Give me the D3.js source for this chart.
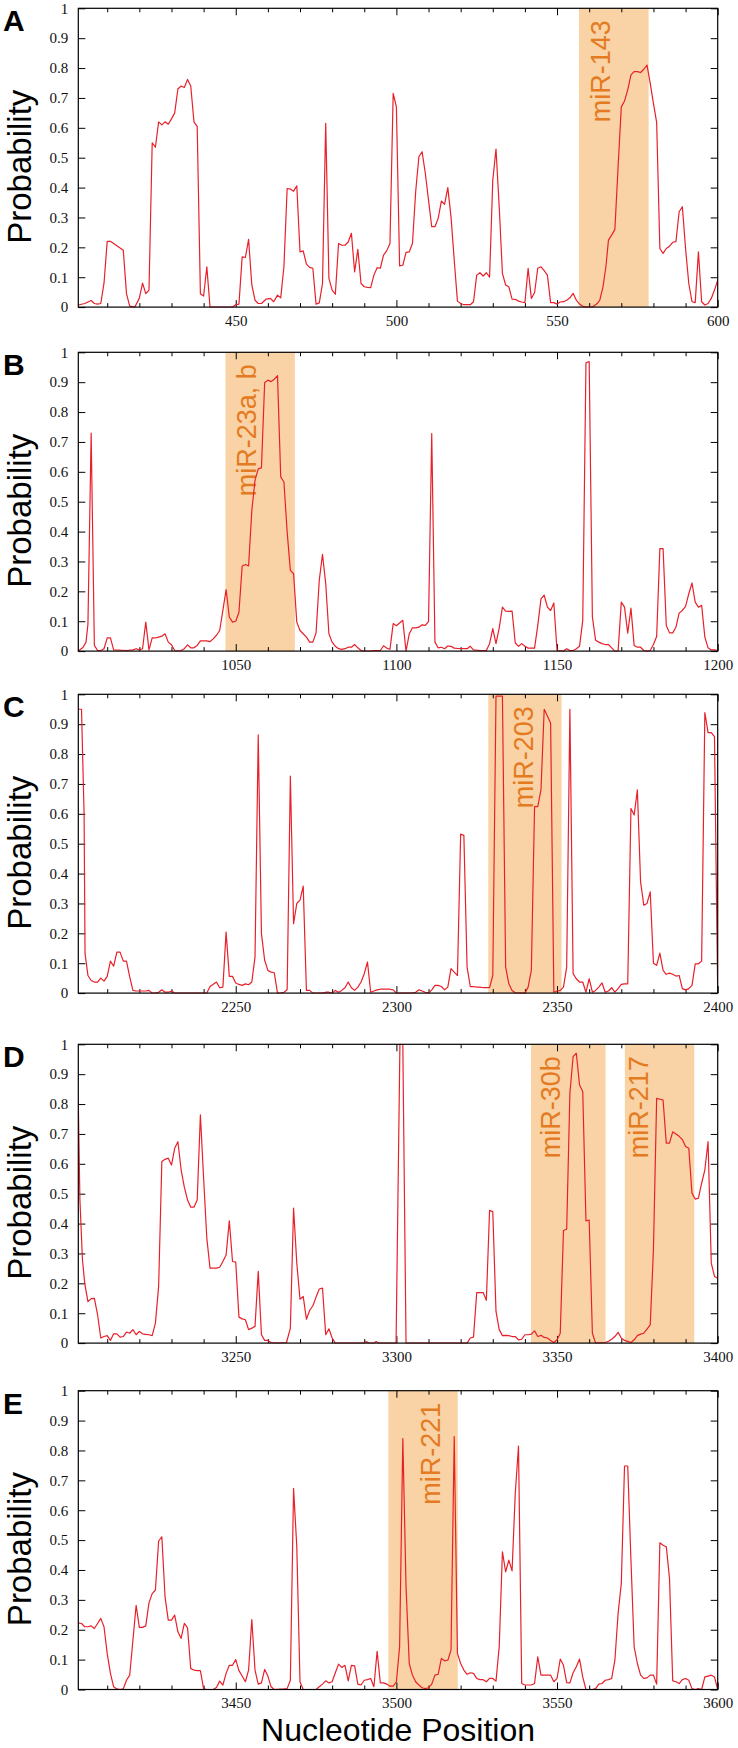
<!DOCTYPE html>
<html>
<head>
<meta charset="utf-8">
<script src="https://cdn.jsdelivr.net/npm/d3@7"></script>
<style>
  html, body { margin: 0; padding: 0; background: #fff; }
  svg { display: block; }
  .tick text { font-family: 'Liberation Serif', 'Times New Roman', 'DejaVu Serif', serif; }
</style>
</head>
<body>
<svg id="chart" width="738" height="1748"></svg>
<script>
// ---------------- DATA ----------------
const panelLetters = ["A", "B", "C", "D", "E"];
const domainStart = [401, 1001, 2201, 3201, 3401];
const domainEnd = [600, 1200, 2400, 3400, 3600];
const yTickValues = [0, 0.1, 0.2, 0.3, 0.4, 0.5, 0.6, 0.7, 0.8, 0.9, 1];
const yTickLabels = ["0", "0.1", "0.2", "0.3", "0.4", "0.5", "0.6", "0.7", "0.8", "0.9", "1"];
const yAxisTitle = "Probability";
const xAxisTitle = "Nucleotide Position";

// highlighted miRNA binding regions
const bandPanel = [0, 1, 2, 3, 3, 4];
const bandStart = [556.8, 1046.8, 2328.6, 3341.9, 3371.1, 3497.5];
const bandEnd = [578.5, 1068.4, 2351.4, 3365.1, 3392.7, 3519.1];
const bandLabel = ["miR-143", "miR-23a, b", "miR-203", "miR-30b", "miR-217", "miR-221"];
const bandLabelPos = [566.4, 1056.3, 2342.5, 3350.9, 3378.2, 3513.6];

// probability profiles: [nucleotide position, probability]
const seriesA = [[401,0.007],[403,0.012],[405,0.022],[406,0.012],[407,0.01],[408,0.012],[409,0.08],[410,0.22],[411,0.22],[413,0.205],[415,0.19],[416,0.045],[417,0.003],[418.6,0],[420,0.03],[421,0.08],[422,0.045],[423,0.057],[424,0.55],[425,0.535],[426,0.62],[427,0.61],[428,0.62],[429,0.612],[430,0.63],[431,0.65],[432,0.73],[433,0.74],[434,0.735],[435,0.762],[436,0.74],[437,0.62],[438,0.605],[439,0.045],[440,0.037],[441,0.135],[442,0],[449,0],[450,0.008],[451,0.01],[452,0.168],[453,0.166],[454,0.227],[455,0.074],[456,0.023],[457,0.012],[458,0.012],[459.5,0.027],[460.8,0.029],[461.8,0.018],[463,0.04],[464,0.031],[465,0.135],[466,0.397],[467,0.395],[468,0.388],[469,0.406],[470,0.185],[471,0.188],[472,0.144],[473,0.133],[474,0.13],[475,0.01],[476,0.014],[477,0.079],[478,0.615],[479,0.096],[480,0.057],[481,0.043],[482,0.213],[483,0.207],[484,0.207],[485,0.218],[486,0.247],[487,0.118],[488,0.193],[489,0.079],[490,0.068],[491,0.066],[492,0.065],[493,0.107],[494,0.132],[495,0.13],[496,0.174],[497,0.189],[498,0.213],[499,0.715],[500,0.67],[501,0.138],[502,0.14],[503,0.183],[504,0.185],[505,0.213],[506,0.386],[507,0.503],[508,0.52],[509,0.448],[510,0.358],[511,0.269],[512,0.269],[513,0.297],[514,0.355],[515,0.344],[516,0.4],[517,0.302],[518,0.157],[519,0.02],[520,0.012],[521,0.008],[523,0.008],[524,0.018],[525,0.107],[526,0.115],[527,0.104],[528,0.115],[529,0.1],[530,0.425],[531,0.529],[532,0.336],[533,0.113],[534,0.074],[535,0.068],[536,0.027],[537,0.026],[538,0.02],[539,0.017],[540,0.015],[541,0.13],[542,0.029],[543,0.048],[544,0.13],[545,0.135],[546,0.122],[547,0.107],[548,0.015],[549,0.015],[550,0.01],[551,0.017],[552,0.018],[553,0.023],[554,0.031],[555,0.046],[556,0.023],[557,0.01],[558,0.003],[559,0],[561,0],[562.5,0.012],[563.3,0.023],[564.3,0.068],[565.2,0.135],[566,0.224],[567,0.241],[568,0.26],[569,0.47],[570,0.67],[571,0.69],[572,0.727],[573,0.777],[574,0.788],[575,0.788],[576,0.785],[577,0.796],[578,0.81],[579,0.749],[580,0.682],[581,0.618],[582,0.196],[583,0.18],[584,0.196],[585,0.204],[586,0.217],[587,0.219],[588,0.319],[589,0.336],[590,0.196],[591,0.079],[592,0.018],[593,0.015],[594,0.185],[595,0.018],[596,0.007],[597,0.012],[598,0.029],[599,0.057],[600,0.09]];

const seriesB = [[1001,0],[1002.5,0.013],[1003.4,0.03],[1004,0.09],[1005,0.73],[1006,0.019],[1007,0.002],[1008,0.002],[1009,0.008],[1010,0.044],[1011,0.044],[1012,0.004],[1016,0.002],[1018,0.004],[1019,0.008],[1020,0.004],[1021,0.008],[1022,0.097],[1023,0.004],[1024,0.044],[1025,0.044],[1026,0.047],[1027,0.05],[1028,0.058],[1029,0.03],[1030,0.021],[1031,0.002],[1032,0],[1033,0.002],[1034,0.008],[1035,0.021],[1036,0.011],[1037,0.011],[1038,0.019],[1039,0.034],[1041,0.034],[1042,0.032],[1043,0.041],[1044,0.053],[1045,0.069],[1046,0.136],[1047,0.206],[1048,0.114],[1049,0.097],[1050,0.1],[1051,0.13],[1052,0.285],[1053,0.29],[1054,0.285],[1055,0.47],[1056,0.572],[1057,0.61],[1058,0.613],[1059,0.898],[1060,0.907],[1061,0.902],[1062,0.91],[1063,0.922],[1064,0.583],[1065,0.566],[1066,0.399],[1067,0.27],[1068,0.259],[1069,0.097],[1070,0.069],[1071,0.058],[1072,0.047],[1073,0.03],[1074,0.03],[1075,0.061],[1076,0.237],[1077,0.324],[1078,0.226],[1079,0.058],[1080,0.03],[1081,0.016],[1082,0.008],[1083,0.006],[1084,0.008],[1085,0.013],[1086,0.013],[1087,0.022],[1088,0.011],[1089,0.002],[1090,0],[1092,0],[1093,0.002],[1095,0.002],[1096,0.018],[1097,0.01],[1098,0.006],[1099,0.092],[1100,0.085],[1101,0.094],[1102,0.103],[1103,0],[1104,0.058],[1105,0.078],[1106,0.078],[1107,0.08],[1108,0.088],[1109,0.086],[1110,0.099],[1111,0.728],[1112,0.03],[1113,0.011],[1114,0.013],[1115,0.008],[1116,0.017],[1117,0.016],[1118,0.01],[1119,0.009],[1122,0.008],[1123,0.016],[1124,0.004],[1126,0.002],[1128,0.002],[1129,0.025],[1130,0.075],[1131,0.025],[1132,0.078],[1133,0.147],[1134,0.134],[1135,0.133],[1136,0.134],[1137,0.027],[1138,0.016],[1139,0.025],[1140,0.016],[1141,0.01],[1143,0.01],[1144,0.086],[1145,0.175],[1146,0.187],[1147,0.147],[1148,0.136],[1149,0.161],[1150,0.002],[1152,0],[1153,0.008],[1154,0.002],[1155,0.002],[1156,0.008],[1157,0.016],[1158,0.103],[1159,0.965],[1160,0.969],[1161,0.114],[1162,0.036],[1163,0.03],[1164,0.025],[1165,0.022],[1166,0.022],[1167,0.011],[1168,0],[1169,0],[1170,0.164],[1171,0.147],[1172,0.06],[1173,0.144],[1174,0.019],[1175,0.013],[1176,0.013],[1177,0.002],[1178,0],[1179,0.002],[1180,0.022],[1181,0.049],[1182,0.343],[1183,0.343],[1184,0.086],[1185,0.061],[1186,0.061],[1187,0.08],[1188,0.127],[1189,0.136],[1190,0.15],[1191,0.192],[1192,0.228],[1193,0.164],[1194,0.147],[1195,0.153],[1196,0.047],[1197,0.011],[1198,0.004],[1199,0.004],[1200,0.002]];

const seriesC = [[2201,0.95],[2202,0.95],[2202.8,0.6],[2203.1,0.132],[2204,0.059],[2205,0.042],[2206,0.037],[2207,0.037],[2208,0.05],[2209,0.04],[2210,0.056],[2211,0.107],[2212,0.09],[2213,0.137],[2214,0.137],[2215,0.107],[2216,0.107],[2217,0.054],[2218,0.009],[2219,0.007],[2222,0.007],[2223,0.009],[2224,0],[2225,0],[2226,0.003],[2227,0.011],[2228,0.003],[2229,0.003],[2230,0.007],[2231,0],[2241,0],[2242,0.022],[2244,0.037],[2245,0.018],[2246,0.02],[2247,0.204],[2248,0.056],[2249,0.056],[2250,0.034],[2251,0.029],[2252,0.026],[2253,0.031],[2254,0.028],[2255,0.037],[2256,0.121],[2257,0.864],[2258,0.199],[2259,0.11],[2260,0.076],[2261,0.07],[2262,0.068],[2263,0],[2264,0],[2265,0.003],[2266,0.011],[2267,0.726],[2268,0.232],[2269,0.3],[2270,0.311],[2271,0.358],[2272,0.009],[2273,0.009],[2274,0],[2277,0],[2278,0.003],[2279,0.003],[2280,0],[2281,0.009],[2282,0.003],[2283,0.009],[2284,0.018],[2285,0.037],[2286,0.018],[2287,0.009],[2288,0.02],[2289,0.037],[2290,0.065],[2291,0.104],[2292,0.003],[2293,0.007],[2294,0.011],[2295,0.013],[2298,0.013],[2299,0.011],[2300,0],[2305,0],[2306,0.003],[2307,0.011],[2308,0.007],[2309,0.003],[2310,0],[2311,0.011],[2312,0.026],[2313,0.026],[2314,0.022],[2315,0.011],[2316,0.02],[2317,0.082],[2318,0.07],[2319,0.059],[2320,0.532],[2321,0.528],[2322,0.087],[2323,0.022],[2324,0.022],[2325,0.02],[2326,0.02],[2327,0.018],[2328,0.018],[2329,0.018],[2330,0.059],[2331,0.994],[2332,0.994],[2333,0.994],[2334,0.087],[2335,0.031],[2336,0.009],[2337,0.001],[2338,0],[2340,0],[2341,0.02],[2342,0.076],[2343,0.624],[2344,0.624],[2345,0.68],[2346,0.95],[2347,0.927],[2348,0.903],[2349,0.003],[2350,0.007],[2351,0.009],[2352,0.02],[2353,0.087],[2354,0.95],[2355,0.065],[2356,0.048],[2357,0.037],[2358,0.037],[2359,0.003],[2360,0.048],[2361,0.003],[2362,0.009],[2363,0.02],[2364,0.034],[2365,0.003],[2366,0.007],[2367,0.018],[2368,0.003],[2369,0.015],[2370,0.029],[2371,0.031],[2372,0.031],[2373,0.618],[2374,0.596],[2375,0.68],[2376,0.372],[2377,0.294],[2378,0.3],[2379,0.339],[2380,0.1],[2381,0.093],[2382,0.134],[2383,0.076],[2384,0.063],[2385,0.067],[2386,0.063],[2387,0.057],[2388,0.059],[2389,0.015],[2390,0.011],[2391,0.015],[2392,0.026],[2393,0.098],[2394,0.098],[2395,0.107],[2396,0.939],[2397,0.872],[2398,0.872],[2399,0.858],[2400,0]];

const seriesD = [[3201,0.808],[3201.5,0.48],[3202.3,0.279],[3203,0.2],[3204,0.139],[3205,0.149],[3206,0.15],[3207,0.095],[3208,0.017],[3209,0.022],[3210,0.025],[3211,0.009],[3212,0.031],[3213,0.031],[3214,0.02],[3215,0.022],[3216,0.037],[3217,0.033],[3218,0.045],[3219,0.028],[3220,0.039],[3221,0.031],[3222,0.029],[3223,0.028],[3224,0.025],[3225,0.067],[3226,0.19],[3227,0.608],[3228,0.615],[3229,0.619],[3230,0.596],[3231,0.652],[3232,0.674],[3233,0.58],[3234,0.522],[3235,0.479],[3236,0.455],[3237,0.455],[3238,0.479],[3239,0.764],[3240,0.552],[3241,0.351],[3242,0.251],[3244,0.251],[3245,0.254],[3246,0.273],[3247,0.295],[3248,0.409],[3249,0.273],[3250,0.271],[3251,0.087],[3252,0.081],[3253,0.078],[3254,0.045],[3255,0.05],[3256,0.056],[3257,0.24],[3258,0.028],[3259,0.009],[3260,0.009],[3261,0.002],[3262.6,0],[3265.8,0.002],[3267,0.05],[3268,0.452],[3269,0.268],[3270,0.147],[3271,0.156],[3272,0.08],[3273,0.109],[3274,0.125],[3275,0.154],[3276,0.181],[3277,0.184],[3278,0.028],[3279,0.048],[3280,0.017],[3281,0],[3290,0],[3290.6,0.005],[3291.5,0],[3293,0],[3293.7,0.005],[3294.5,0],[3299.9,0],[3301.1,1],[3302,1],[3303,0],[3322,0],[3323,0.017],[3324,0.02],[3325,0.169],[3326,0.169],[3327,0.169],[3328,0.143],[3329,0.444],[3330,0.44],[3331,0.106],[3332,0.045],[3333,0.025],[3334,0.026],[3335,0.025],[3336,0.022],[3337,0.022],[3338,0.011],[3339,0.013],[3340,0.028],[3341,0.028],[3342,0.03],[3343,0.041],[3344,0.022],[3345,0.026],[3346,0.019],[3347,0.017],[3348,0.009],[3349,0.002],[3350,0.011],[3351,0.033],[3352,0.377],[3353,0.381],[3354,0.836],[3355,0.959],[3356,0.97],[3357,0.864],[3358,0.842],[3359,0.409],[3360,0.412],[3361,0.033],[3362,0],[3365,0.002],[3366,0.006],[3367,0.013],[3368,0.022],[3369,0.036],[3370,0.017],[3371,0.009],[3372,0.006],[3373,0.002],[3374,0.011],[3375,0.025],[3376,0.03],[3377,0.033],[3378,0.047],[3379,0.061],[3380,0.312],[3381,0.819],[3382,0.816],[3383,0.813],[3384,0.669],[3385,0.669],[3386,0.707],[3387,0.7],[3388,0.692],[3389,0.681],[3390,0.658],[3391,0.652],[3392,0.502],[3393,0.482],[3394,0.485],[3395,0.535],[3396,0.58],[3397,0.674],[3398,0.268],[3399,0.223],[3400,0.217]];

const seriesE = [[3401,0.223],[3402,0.221],[3403,0.21],[3404,0.21],[3405,0.213],[3406,0.204],[3407,0.221],[3408,0.238],[3409,0.21],[3410,0.12],[3411,0.054],[3412,0.009],[3413,0.002],[3414,0],[3415,0.002],[3416,0.031],[3417,0.048],[3418,0.165],[3419,0.282],[3420,0.208],[3421,0.208],[3422,0.213],[3423,0.29],[3424,0.321],[3425,0.333],[3426,0.497],[3427,0.511],[3428,0.31],[3429,0.232],[3430,0.232],[3431,0.249],[3432,0.193],[3433,0.171],[3434,0.221],[3435,0.206],[3436,0.07],[3437,0.065],[3438,0.063],[3439,0.063],[3440,0.002],[3441,0],[3443,0],[3444,0.007],[3445,0.028],[3446,0.015],[3447,0.054],[3448,0.081],[3449,0.081],[3450,0.1],[3451,0.063],[3452,0.045],[3453,0.026],[3454,0.065],[3455,0.234],[3456,0.065],[3457,0.018],[3458,0.022],[3459,0.067],[3460,0.045],[3461,0.009],[3462,0],[3465,0.002],[3466,0.003],[3467,0.031],[3468,0.673],[3469,0.478],[3470,0.026],[3471,0],[3475,0],[3476,0.009],[3477,0.018],[3478,0.029],[3479,0.022],[3480,0.026],[3481,0.056],[3482,0.085],[3483,0.074],[3484,0.081],[3485,0.029],[3486,0.081],[3487,0.079],[3488,0.018],[3489,0.015],[3490,0.031],[3491,0.033],[3492,0.037],[3493,0.009],[3494,0.128],[3495,0.022],[3496,0.022],[3497,0.018],[3498,0.011],[3499,0.011],[3500,0.026],[3501,0.143],[3502,0.84],[3503,0.344],[3504,0.087],[3505,0.048],[3506,0.026],[3507,0.015],[3508,0.006],[3509,0.003],[3510,0.006],[3511,0.018],[3512,0.048],[3513,0.051],[3514,0.104],[3515,0.096],[3516,0.098],[3517,0.132],[3518,0.846],[3519,0.121],[3520,0.087],[3521,0.065],[3522,0.051],[3523,0.056],[3524,0.054],[3525,0.037],[3526,0.033],[3527,0.033],[3528,0.026],[3529,0.037],[3530,0.037],[3531,0.028],[3532,0.143],[3533,0.461],[3534,0.394],[3535,0.433],[3536,0.397],[3537,0.656],[3538,0.815],[3539,0.02],[3540,0.015],[3542,0.015],[3543,0.02],[3544,0.109],[3545,0.048],[3548,0.048],[3549,0.026],[3550,0.037],[3551,0.102],[3552,0.081],[3553,0.023],[3554,0.022],[3555,0.056],[3556,0.076],[3557,0.102],[3558,0.042],[3559,0],[3561,0],[3562,0.003],[3563,0.018],[3564,0.02],[3565,0.031],[3566,0.033],[3567,0.037],[3568,0.098],[3569,0.254],[3570,0.355],[3571,0.748],[3572,0.748],[3573,0.433],[3574,0.143],[3575,0.087],[3576,0.048],[3577,0.037],[3578,0.039],[3579,0.048],[3580,0.048],[3581,0.018],[3582,0.491],[3583,0.483],[3584,0.478],[3585,0.372],[3586,0.029],[3587,0.026],[3588,0.02],[3589,0.033],[3590,0.037],[3591,0.031],[3592,0.003],[3593,0],[3594,0.003],[3595,0],[3596,0.042],[3597,0.045],[3598,0.048],[3599,0.042],[3600,0]];

const allSeries = [seriesA, seriesB, seriesC, seriesD, seriesE];

// ---------------- LAYOUT ----------------
const plotLeft = 78.3, plotRight = 717.7;
const panelTops = [8.3, 352.3, 694.3, 1044.3, 1390.7];
const plotH = 298.8;

const svg = d3.select("#chart");
const serif = "'Liberation Serif', 'Times New Roman', 'DejaVu Serif', serif";
const sans = "'Liberation Sans', Arial, Helvetica, sans-serif";

panelLetters.forEach((letter, i) => {
  const top = panelTops[i];
  const x = d3.scaleLinear().domain([domainStart[i], domainEnd[i]]).range([plotLeft, plotRight]);
  const y = d3.scaleLinear().domain([0, 1]).range([top + plotH, top]);

  const g = svg.append("g");

  const clipId = "clip" + i;
  svg.append("clipPath").attr("id", clipId)
    .append("rect").attr("x", plotLeft).attr("y", top - 0.5)
    .attr("width", plotRight - plotLeft).attr("height", plotH + 1);

  // bands
  bandPanel.forEach((p, k) => {
    if (p !== i) return;
    g.append("rect")
      .attr("x", x(bandStart[k])).attr("y", top)
      .attr("width", x(bandEnd[k]) - x(bandStart[k])).attr("height", plotH)
      .attr("fill", "#f9d3a5");
  });

  const minorTicks = d3.range(domainStart[i] - (domainStart[i] % 10) + 10, domainEnd[i] + 1, 10)
    .filter(v => v % 50 !== 0);
  const majorTicks = d3.range(domainStart[i] - (domainStart[i] % 50) + 50, domainEnd[i] + 1, 50);

  const axBottomMinor = d3.axisBottom(x).tickValues(minorTicks).tickSizeInner(-4).tickSizeOuter(0).tickFormat("");
  const axBottomMajor = d3.axisBottom(x).tickValues(majorTicks).tickSizeInner(-7).tickSizeOuter(0).tickPadding(8).tickFormat(d3.format("d"));
  const axTopMinor = d3.axisTop(x).tickValues(minorTicks).tickSizeInner(-4).tickSizeOuter(0).tickFormat("");
  const axTopMajor = d3.axisTop(x).tickValues(majorTicks).tickSizeInner(-7).tickSizeOuter(0).tickFormat("");
  const axLeft = d3.axisLeft(y).tickValues(yTickValues).tickSizeInner(-7).tickSizeOuter(0).tickPadding(10)
    .tickFormat((d, j) => yTickLabels[j]);
  const axRight = d3.axisRight(y).tickValues(yTickValues).tickSizeInner(-7).tickSizeOuter(0).tickFormat("");

  const styleAxis = sel => {
    sel.attr("font-family", serif).attr("font-size", 15);
    sel.select(".domain").remove();
    sel.selectAll(".tick line").attr("stroke", "#000").attr("stroke-width", 1);
    sel.selectAll("text").attr("font-family", serif).attr("font-size", 15).attr("fill", "#111");
  };

  g.append("g").attr("transform", `translate(0,${top + plotH})`).call(axBottomMinor).call(styleAxis);
  g.append("g").attr("transform", `translate(0,${top + plotH})`).call(axBottomMajor).call(styleAxis);
  g.append("g").attr("transform", `translate(0,${top})`).call(axTopMinor).call(styleAxis);
  g.append("g").attr("transform", `translate(0,${top})`).call(axTopMajor).call(styleAxis);
  g.append("g").attr("transform", `translate(${plotLeft},0)`).call(axLeft).call(styleAxis);
  g.append("g").attr("transform", `translate(${plotRight},0)`).call(axRight).call(styleAxis);

  // band labels
  bandPanel.forEach((p, k) => {
    if (p !== i) return;
    g.append("text")
      .attr("transform", `translate(${x(bandLabelPos[k])},${top + 12}) rotate(-90)`)
      .attr("text-anchor", "end")
      .attr("font-family", sans).attr("font-size", 27)
      .attr("fill", "#e47b22")
      .text(bandLabel[k]);
  });

  // line
  const line = d3.line().x(d => x(d[0])).y(d => y(d[1]));
  g.append("path")
    .datum(allSeries[i])
    .attr("clip-path", `url(#${clipId})`)
    .attr("d", line)
    .attr("fill", "none")
    .attr("stroke", "#e8202a")
    .attr("stroke-width", 1.2)
    .attr("stroke-linejoin", "round");

  // frame
  g.append("rect")
    .attr("x", plotLeft).attr("y", top)
    .attr("width", plotRight - plotLeft).attr("height", plotH)
    .attr("fill", "none").attr("stroke", "#000").attr("stroke-width", 1.2);

  // panel letter
  svg.append("text")
    .attr("x", 3).attr("y", top + 23)
    .attr("font-family", sans).attr("font-weight", "bold").attr("font-size", 30)
    .attr("fill", "#000")
    .text(letter);

  // y title
  svg.append("text")
    .attr("transform", `translate(31,${top + plotH / 2 + 9}) rotate(-90)`)
    .attr("text-anchor", "middle")
    .attr("font-family", sans).attr("font-size", 33)
    .attr("fill", "#000")
    .text(yAxisTitle);
});

// x title
svg.append("text")
  .attr("x", (plotLeft + plotRight) / 2).attr("y", 1741)
  .attr("text-anchor", "middle")
  .attr("font-family", sans).attr("font-size", 32)
  .attr("fill", "#000")
  .text(xAxisTitle);
</script>
</body>
</html>
